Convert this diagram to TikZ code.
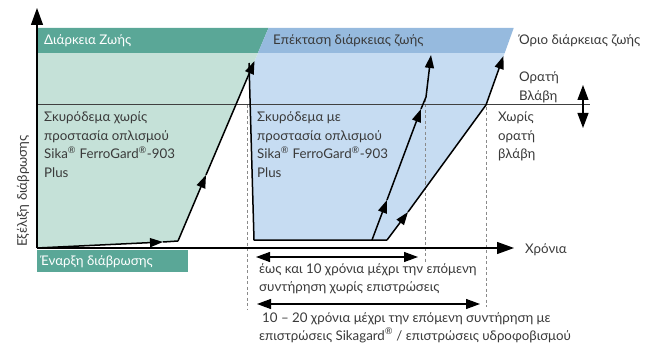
\documentclass[tikz,border=0pt]{standalone}
\usepackage{fontspec}
\setmainfont{Lato}
\usetikzlibrary{arrows.meta}
\definecolor{dgreen}{HTML}{5AA797}
\definecolor{lgreen}{HTML}{C5E1D8}
\definecolor{dblue}{HTML}{96BADE}
\definecolor{lblue}{HTML}{C6DCF2}
\definecolor{txt}{HTML}{3A3A3A}
\definecolor{dashc}{HTML}{8A8A8A}
\tikzset{
  line/.style={black, line width=1.5pt, line join=round},
  arr/.style={line, -{Triangle[length=13pt,width=9pt]}},
  dbl/.style={black, line width=1.1pt, {Triangle[length=14pt,width=10pt]}-{Triangle[length=14pt,width=10pt]}},
  dsh/.style={dashc, line width=1pt, dash pattern=on 3pt off 2.5pt},
  lbl/.style={anchor=base west, inner sep=0pt, text=txt, font=\fontsize{13.3}{18.4}\selectfont, align=left},
}
\begin{document}
\begin{tikzpicture}[x=1pt,y=-1pt]
\useasboundingbox (0,0) rectangle (649,345);
% key points
\coordinate (o) at (37,248);
\coordinate (g1) at (178,241);
\coordinate (gt) at (257.9,53);
\coordinate (gtop) at (268.5,28);
\coordinate (b1) at (372,240);
\coordinate (b1k) at (426,97);
\coordinate (b1e) at (431,55);
\coordinate (b2) at (387,240);
\coordinate (b2k) at (486,105);
\coordinate (b2e) at (504.7,53);
\coordinate (b2top) at (513.7,28);
\coordinate (bl) at (254,240);
\coordinate (blt) at (248.6,75);
% fills
\fill[lblue] (gt) -- (b2e) -- (b2k) -- (b2) -- (bl) -- (blt) -- cycle;
\fill[lgreen] (37,53) -- (gt) -- (g1) -- (o) -- cycle;
\fill[dgreen] (37,28) -- (gtop) -- (gt) -- (37,53) -- cycle;
\fill[dblue] (gtop) -- (b2top) -- (b2e) -- (gt) -- cycle;
\fill[dgreen] (37,250) rectangle (188,272);
% dashed verticals
\draw[dsh] (247,105) -- (247,310);
\draw[dsh] (425,99) -- (425,262);
\draw[dsh] (486,107) -- (486,307);
% horizontal damage line
\draw[black!75, line width=1pt] (37,105) -- (590,105);
% blue outline
\draw[line] (249,63) -- (bl) -- (b2);
% green curve
\draw[arr] (o) -- (163,242);
\draw[line] (163,242) -- (g1);
\draw[arr] (g1) -- (206,175);
\draw[arr] (206,175) -- (254.5,61);
% blue curve 1
\draw[arr] (b1) -- (387,200);
\draw[arr] (387,200) -- (421,109);
\draw[line] (421,109) -- (b1k);
\draw[arr] (b1k) -- (b1e);
% blue curve 2
\draw[arr] (b2) -- (408,212);
\draw[line] (408,212) -- (b2k);
\draw[arr] (b2k) -- (503.5,56);
% axes
\draw[black, line width=1.2pt, -{Triangle[length=17pt,width=12pt]}] (o) -- (37,8);
\draw[black, line width=1.2pt, -{Triangle[length=17pt,width=12pt]}] (o) -- (514,248);
% double arrows
\draw[dbl] (256,257) -- (418,257);
\draw[dbl] (257,304) -- (480,304);
\draw[black, line width=1.1pt, {Triangle[length=15pt,width=11pt]}-{Triangle[length=15pt,width=11pt]}] (583,85) -- (583,128);
% texts (multi-line nodes: base = last line)
\node[lbl, text=white] (t1) at (44,45) {Διάρκεια Ζωής};
\node[lbl] (t2) at (273,45) {Επέκταση διάρκειας ζωής};
\node[lbl] (t3) at (519,45) {Όριο διάρκειας ζωής};
\node[lbl] (t4) at (519,100.4) {Ορατή\\Βλάβη};
\node[lbl] (t5) at (498,158.8) {Χωρίς\\ορατή\\βλάβη};
\node[lbl] (t6) at (44,177.2) {Σκυρόδεμα χωρίς\\προστασία οπλισμού\\Sika\textsuperscript{®} FerroGard\textsuperscript{®}-903\\Plus};
\node[lbl] (t7) at (257,177.2) {Σκυρόδεμα με\\προστασία οπλισμού\\Sika\textsuperscript{®} FerroGard\textsuperscript{®}-903\\Plus};
\node[lbl] (t8) at (525,253) {Χρόνια};
\node[lbl, text=white] (t9) at (40,265) {Έναρξη διάβρωσης};
\node[lbl] (t10) at (259,291.4) {έως και 10 χρόνια μέχρι την επόμενη\\συντήρηση χωρίς επιστρώσεις};
\node[lbl] (t11) at (262,322) {10 – 20 χρόνια μέχρι την επόμενη συντήρηση με};
\node[lbl] (t12) at (259,340) {επιστρώσεις Sikagard\textsuperscript{®} / επιστρώσεις υδροφοβισμού};
\node[lbl, rotate=90] (t13) at (27,247) {Εξέλιξη διάβρωσης};
\end{tikzpicture}
\end{document}
